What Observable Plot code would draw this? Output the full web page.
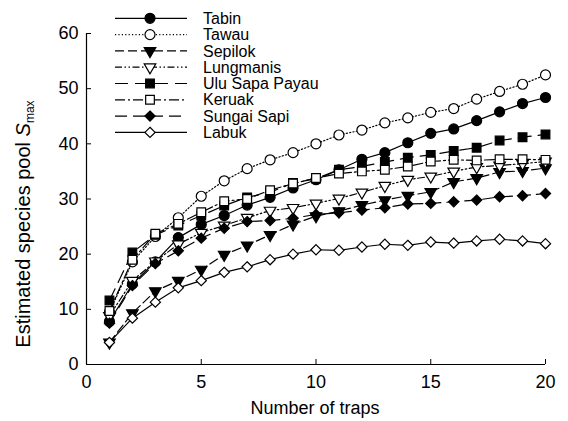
<!DOCTYPE html>
<html><head><meta charset="utf-8">
<script src="https://cdn.jsdelivr.net/npm/d3@7"></script>
<script src="https://cdn.jsdelivr.net/npm/@observablehq/plot@0.6"></script>
<style>
html,body{margin:0;padding:0;background:#fff;}
#chart{width:568px;height:421px;}
</style></head><body><div id="chart"></div>
<script>
// ---- data ----
const traps = [1,2,3,4,5,6,7,8,9,10,11,12,13,14,15,16,17,18,19,20];
const siteNames = ["Tabin","Tawau","Sepilok","Lungmanis","Ulu Sapa Payau","Keruak","Sungai Sapi","Labuk"];
const tabin     = [7.8,14.6,18.6,23.0,25.4,27.0,28.9,30.3,32.0,33.5,35.3,37.2,38.4,40.2,41.9,42.7,44.2,45.8,47.3,48.4];
const tawau     = [9.5,18.6,23.2,26.6,30.5,33.3,35.5,37.1,38.4,40.0,41.6,42.5,43.8,44.7,45.7,46.4,48.1,49.5,50.8,52.5];
const sepilok   = [4.0,9.3,13.3,15.2,17.2,19.9,21.6,23.5,25.4,26.9,27.8,28.9,29.8,30.6,31.3,33.1,33.8,34.9,35.1,35.6];
const lungmanis = [8.8,15.2,18.7,21.8,23.9,25.2,26.6,27.9,28.4,29.2,30.1,31.2,32.4,33.5,34.1,35.0,35.8,36.1,36.4,36.8];
const uluSapa   = [11.6,20.3,23.5,25.2,27.0,28.8,30.3,31.2,32.9,33.7,35.3,35.9,36.7,37.5,38.0,38.7,39.3,40.6,41.2,41.7];
const keruak    = [9.7,19.0,23.7,25.5,27.6,29.6,30.0,31.6,32.8,33.8,34.6,35.0,35.3,35.9,36.8,37.1,37.0,37.2,37.2,37.1];
const sungaiSapi= [7.5,14.3,18.3,20.6,22.9,24.7,25.9,26.1,26.5,27.2,27.5,28.0,28.4,29.1,29.2,29.5,29.8,30.4,30.6,31.0];
const labuk     = [4.0,8.4,11.3,13.9,15.2,16.7,17.7,19.0,20.0,20.8,20.7,21.3,21.8,21.6,22.2,22.0,22.4,22.7,22.4,21.9];
const xTicks = [0,5,10,15,20];
const yTicks = [0,10,20,30,40,50,60];

const seriesValues = [tabin,tawau,sepilok,lungmanis,uluSapa,keruak,sungaiSapi,labuk];

// ---- styles ----
const styles = {
  "Tabin":          {symbol:"circle",   fill:"black", dash:null,              r:5,   rotate:0},
  "Tawau":          {symbol:"circle",   fill:"white", dash:"1.2,2.2",         r:5,   rotate:0},
  "Sepilok":        {symbol:"triangle", fill:"black", dash:"9,4",             r:4.3, rotate:180},
  "Lungmanis":      {symbol:"triangle", fill:"white", dash:"7,2.5,1.5,2.5,1.5,2.5", r:4.3, rotate:180},
  "Ulu Sapa Payau": {symbol:"square",   fill:"black", dash:"13,7",            r:4.9, rotate:0},
  "Keruak":         {symbol:"square",   fill:"white", dash:"10,3,2,3",        r:4.9, rotate:0},
  "Sungai Sapi":    {symbol:"diamond2", fill:"black", dash:"12,6",            r:4.6, rotate:0},
  "Labuk":          {symbol:"diamond2", fill:"white", dash:null,              r:4.6, rotate:0}
};

const rows = [];
siteNames.forEach((name, k) => seriesValues[k].forEach((v, i) => rows.push({site:name, trap:traps[i], value:v})));

const marks = [
  Plot.ruleX([0], {stroke:"black", strokeWidth:1.2}),
  Plot.ruleY([0], {stroke:"black", strokeWidth:1.2}),
  Plot.axisX(xTicks, {tickSize:-5, tickPadding:16, fontSize:18, label:null, stroke:"black", fill:"black"}),
  Plot.axisY(yTicks, {tickSize:-5, tickPadding:13, fontSize:18, label:null, stroke:"black", fill:"black"})
];
siteNames.forEach(name => {
  const st = styles[name];
  const d = rows.filter(r => r.site === name);
  marks.push(Plot.line(d, {x:"trap", y:"value", stroke:"black", strokeWidth:1.2, strokeDasharray:st.dash}));
  marks.push(Plot.dot(d, {x:"trap", y:"value", symbol:st.symbol, r:st.r, rotate:st.rotate, fill:st.fill, stroke:"black", strokeWidth:1.2}));
});

const svg = Plot.plot({
  width:568, height:421,
  marginLeft:86, marginRight:23, marginTop:33, marginBottom:57,
  style:{fontFamily:"'Liberation Sans', Arial, Helvetica, sans-serif", fontSize:"18px", color:"black", background:"white"},
  x:{domain:[0,20]},
  y:{domain:[0,60]},
  marks
});

const s = d3.select(svg);
// axis titles
s.append("text").attr("x", 315).attr("y", 414).attr("text-anchor","middle").attr("font-size",18).attr("fill","black").text("Number of traps");
const yl = s.append("text").attr("transform","translate(30,224) rotate(-90)").attr("text-anchor","middle").attr("font-size",20).attr("fill","black");
yl.append("tspan").text("Estimated species pool ");
yl.append("tspan").attr("font-style","italic").text("S");
yl.append("tspan").attr("font-size",12).attr("dy","0.35em").text("max");

// legend
const lg = s.append("g");
siteNames.forEach((name, i) => {
  const st = styles[name];
  const y = 18.3 + i * 16.3;
  lg.append("line").attr("x1",115).attr("x2",187).attr("y1",y).attr("y2",y)
    .attr("stroke","black").attr("stroke-width",1.2).attr("stroke-dasharray", st.dash);
  const type = {circle:d3.symbolCircle, triangle:d3.symbolTriangle, square:d3.symbolSquare, diamond2:d3.symbolDiamond2}[st.symbol];
  lg.append("path").attr("d", d3.symbol(type, st.r * st.r * Math.PI)())
    .attr("transform", `translate(150,${y}) rotate(${st.rotate})`)
    .attr("fill", st.fill).attr("stroke","black").attr("stroke-width",1.2);
  lg.append("text").attr("x",203).attr("y",y).attr("dy","0.35em").attr("text-anchor","start")
    .attr("font-size",16).attr("fill","black").text(name);
});

document.getElementById("chart").appendChild(svg);
</script>
</body></html>
